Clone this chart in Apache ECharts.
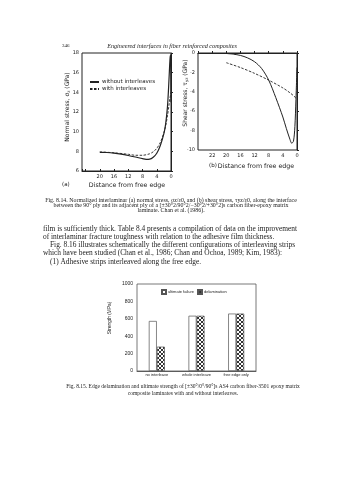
<!DOCTYPE html>
<html><head><meta charset="utf-8">
<script src="https://cdn.jsdelivr.net/npm/echarts@6/dist/echarts.min.js"></script>
<style>html,body{margin:0;padding:0;background:#fff}#c{width:339px;height:480px}</style>
</head><body><div id="c"></div>
<script>
// ---------- DATA ----------
// Fig 8.14 (a) normal stress vs distance from free edge
const aDistWithout = [20, 18, 16, 14, 12, 10, 8, 7, 6, 5, 4, 3, 2, 1.5, 1, 0.7, 0.45, 0.25, 0.1, 0];
const aWithout     = [7.9, 7.88, 7.82, 7.72, 7.58, 7.42, 7.25, 7.18, 7.2, 7.4, 7.8, 8.6, 9.8, 10.8, 12.5, 14.3, 16.2, 17.5, 17.8, 13];
const aDistWith    = [20, 16, 12, 10, 8, 6, 5, 4, 3, 2, 1.5, 1, 0.6, 0.3, 0];
const aWith        = [7.95, 7.85, 7.7, 7.6, 7.6, 7.75, 7.95, 8.3, 8.9, 9.9, 10.6, 11.6, 12.6, 13.4, 14.0];
// Fig 8.14 (b) shear stress vs distance from free edge
const bDistSolid   = [20, 18, 16, 14, 12, 10, 8, 6, 4, 3, 2, 1.5, 1, 0.6, 0.3, 0];
const bSolid       = [-0.05, -0.12, -0.25, -0.5, -0.9, -1.6, -2.8, -4.6, -6.6, -7.8, -8.9, -9.3, -9.1, -7.6, -4.8, -1.5];
const bDistDashed  = [20, 16, 12, 8, 4, 2, 1, 0.3, 0];
const bDashed      = [-1.0, -1.5, -2.1, -2.8, -3.6, -4.1, -4.4, -4.65, -4.8];
// tick labels of (b) x axis as printed (value -> printed label)
const bTickValues  = [0, 4, 8, 12, 16, 20, 24];
const bTickLabels  = ['0', '4', '8', '12', '16', '20', '22'];
// Fig 8.15 bar chart
const cCategories  = ['no interleave', 'whole interleave', 'free edge only'];
const cUltimate    = [575, 635, 660];
const cDelam       = [280, 635, 660];
const seriesNamesA = ['without interleaves', 'with interleaves'];
const seriesNamesC = ['ultimate failure', 'delamination'];

// ---------- STYLE ----------
const ink = '#222';
const plotFont = 'DejaVu Sans';
const barFont = 'Liberation Sans';
const serif = 'Liberation Serif';

function hatch() {
  const c = document.createElement('canvas');
  c.width = 4; c.height = 4;
  const g = c.getContext('2d');
  g.fillStyle = '#fff'; g.fillRect(0, 0, 4, 4);
  g.fillStyle = '#333';
  [[0,0],[1,1],[2,2],[3,3],[3,0],[2,1],[1,2],[0,3]].forEach(p => g.fillRect(p[0], p[1], 1, 1));
  return c;
}
const pattern = { image: hatch(), repeat: 'repeat' };

function T(x, y, text, size, o) {
  o = o || {};
  return {
    type: 'text', x: x, y: y, rotation: o.rot || 0, silent: true,
    style: {
      text: text, fill: o.fill || ink,
      font: (o.italic ? 'italic ' : '') + size + 'px "' + (o.family || serif) + '"',
      align: o.align || 'left', textAlign: o.align || 'left',
      verticalAlign: 'middle', textVerticalAlign: 'middle',
      rich: o.rich
    }
  };
}

const pairs = (xs, ys) => xs.map((x, i) => [x, ys[i]]);

const axisCommon = {
  axisLine: { lineStyle: { color: ink, width: 1 } },
  axisTick: { inside: true, length: 2, lineStyle: { color: ink } },
  splitLine: { show: false },
  axisLabel: { color: ink, fontSize: 5, fontFamily: plotFont, margin: 3 }
};

const chart = echarts.init(document.getElementById('c'), null, { renderer: 'canvas' });

const subRich = {
  a: { fontSize: 6, fontFamily: plotFont, color: ink },
  s: { fontSize: 4, fontFamily: plotFont, color: ink, padding: [3, 0, 0, 0] }
};

chart.setOption({
  backgroundColor: '#fff',
  animation: false,
  grid: [
    { left: 82, top: 53, width: 89, height: 118, show: true, borderColor: ink, borderWidth: 1 },
    { left: 198, top: 53, width: 99, height: 97, show: true, borderColor: ink, borderWidth: 1 },
    { left: 137, top: 284, width: 119, height: 87, show: true, borderColor: '#555', borderWidth: 0.8 }
  ],
  xAxis: [
    Object.assign({}, axisCommon, { gridIndex: 0, type: 'value', min: 0, max: 25, interval: 4, inverse: true,
      axisLabel: Object.assign({}, axisCommon.axisLabel, { formatter: v => (v > 20 ? '' : String(v)) }) }),
    Object.assign({}, axisCommon, { gridIndex: 1, type: 'value', min: 0, max: 28, interval: 4, inverse: true,
      axisLabel: Object.assign({}, axisCommon.axisLabel, { formatter: v => { const i = bTickValues.indexOf(v); return i < 0 ? '' : bTickLabels[i]; } }) }),
    { gridIndex: 2, type: 'category', data: cCategories,
      axisLine: { lineStyle: { color: '#444', width: 0.8 } }, axisTick: { show: false },
      axisLabel: { color: ink, fontSize: 4, fontFamily: barFont, margin: 2, interval: 0 } }
  ],
  yAxis: [
    Object.assign({}, axisCommon, { gridIndex: 0, type: 'value', min: 6, max: 18, interval: 2 }),
    Object.assign({}, axisCommon, { gridIndex: 1, type: 'value', min: -10, max: 0, interval: 2 }),
    { gridIndex: 2, type: 'value', min: 0, max: 1000, interval: 200,
      axisLine: { lineStyle: { color: '#444', width: 0.8 } },
      axisTick: { inside: false, length: 2, lineStyle: { color: '#444' } },
      splitLine: { show: false },
      axisLabel: { color: ink, fontSize: 5, fontFamily: barFont, margin: 4, formatter: v => String(v) } }
  ],
  legend: [
    { data: seriesNamesA, left: 89, top: 79, orient: 'vertical', itemWidth: 9, itemHeight: 5, itemGap: 1,
      padding: 0, itemStyle: { opacity: 0 },
      textStyle: { fontSize: 5.5, fontFamily: plotFont, color: ink, padding: [0, 0, 0, -2] }, selectedMode: false },
    { data: seriesNamesC, left: 161, top: 289, orient: 'horizontal', itemWidth: 4, itemHeight: 4, itemGap: 3,
      padding: 0, icon: 'rect', textStyle: { fontSize: 4, fontFamily: barFont, color: ink, padding: [0, 0, 0, -3] }, selectedMode: false }
  ],
  series: [
    { name: seriesNamesA[0], type: 'line', xAxisIndex: 0, yAxisIndex: 0, data: pairs(aDistWithout, aWithout),
      smooth: 0.3, symbol: 'none', lineStyle: { color: ink, width: 1.2, type: 'solid' }, itemStyle: { color: ink } },
    { name: seriesNamesA[1], type: 'line', xAxisIndex: 0, yAxisIndex: 0, data: pairs(aDistWith, aWith),
      smooth: 0.3, symbol: 'none', lineStyle: { color: ink, width: 0.9, type: [2.5, 1.5] }, itemStyle: { color: ink } },
    { name: 'b without', type: 'line', xAxisIndex: 1, yAxisIndex: 1, data: pairs(bDistSolid, bSolid),
      smooth: 0.3, symbol: 'none', lineStyle: { color: ink, width: 1, type: 'solid' } },
    { name: 'b with', type: 'line', xAxisIndex: 1, yAxisIndex: 1, data: pairs(bDistDashed, bDashed),
      smooth: 0.3, symbol: 'none', lineStyle: { color: ink, width: 0.9, type: [2.5, 1.5] } },
    { name: seriesNamesC[0], type: 'bar', xAxisIndex: 2, yAxisIndex: 2, data: cUltimate, barWidth: 8, barGap: '0%',
      itemStyle: { color: '#fff', borderColor: '#555', borderWidth: 0.7 } },
    { name: seriesNamesC[1], type: 'bar', xAxisIndex: 2, yAxisIndex: 2, data: cDelam, barWidth: 8, barGap: '0%',
      itemStyle: { color: pattern, borderColor: '#555', borderWidth: 0.7 } }
  ],
  graphic: [
    T(62, 46, '346', 5),
    T(172, 46, 'Engineered interfaces in fiber reinforced composites', 6.2, { italic: true, align: 'center' }),
    // (a)
    T(67, 107, '{a|Normal stress, σ}{s|z}{a| (GPa)}', 6, { rot: Math.PI / 2, align: 'center', family: plotFont, rich: subRich }),
    T(127, 185, 'Distance from free edge', 6.3, { align: 'center', family: plotFont }),
    T(62, 185, '(a)', 5.5, { family: plotFont }),
    // (b)
    T(185, 93, '{a|Shear stress, τ}{s|yz}{a| (GPa)}', 6, { rot: Math.PI / 2, align: 'center', family: plotFont, rich: subRich }),
    T(256, 166, 'Distance from free edge', 6.3, { align: 'center', family: plotFont }),
    T(213, 166, '(b)', 5.5, { align: 'center', family: plotFont }),
    // caption 8.14
    T(171, 200.3, 'Fig. 8.14. Normalized interlaminar (a) normal stress, σz/ε0, and (b) shear stress, τyz/ε0, along the interface', 5.9, { align: 'center' }),
    T(171, 205.3, 'between the 90° ply and its adjacent ply of a [±30°2/90°2/−30°2/+30°2]s carbon fiber-epoxy matrix', 5.9, { align: 'center' }),
    T(171, 210.3, 'laminate. Chan et al. (1986).', 5.9, { align: 'center' }),
    // body text
    T(43, 229.5, 'film is sufficiently thick. Table 8.4 presents a compilation of data on the improvement', 7.4),
    T(43, 237.5, 'of interlaminar fracture toughness with relation to the adhesive film thickness.', 7.4),
    T(50, 245.5, 'Fig. 8.16 illustrates schematically the different configurations of interleaving strips', 7.4),
    T(43, 253.5, 'which have been studied (Chan et al., 1986; Chan and Ochoa, 1989; Kim, 1983):', 7.4),
    T(50, 262, '(1) Adhesive strips interleaved along the free edge.', 7.4),
    // bar chart y title
    T(110, 318, 'Strength (MPa)', 4.8, { rot: Math.PI / 2, align: 'center', family: barFont }),
    // caption 8.15
    T(183, 386.7, 'Fig. 8.15. Edge delamination and ultimate strength of [±30°/0°/90°]s AS4 carbon fiber-3501 epoxy matrix', 5.5, { align: 'center' }),
    T(183, 393.3, 'composite laminates with and without interleaves.', 5.5, { align: 'center' })
  ]
});
</script></body></html>
